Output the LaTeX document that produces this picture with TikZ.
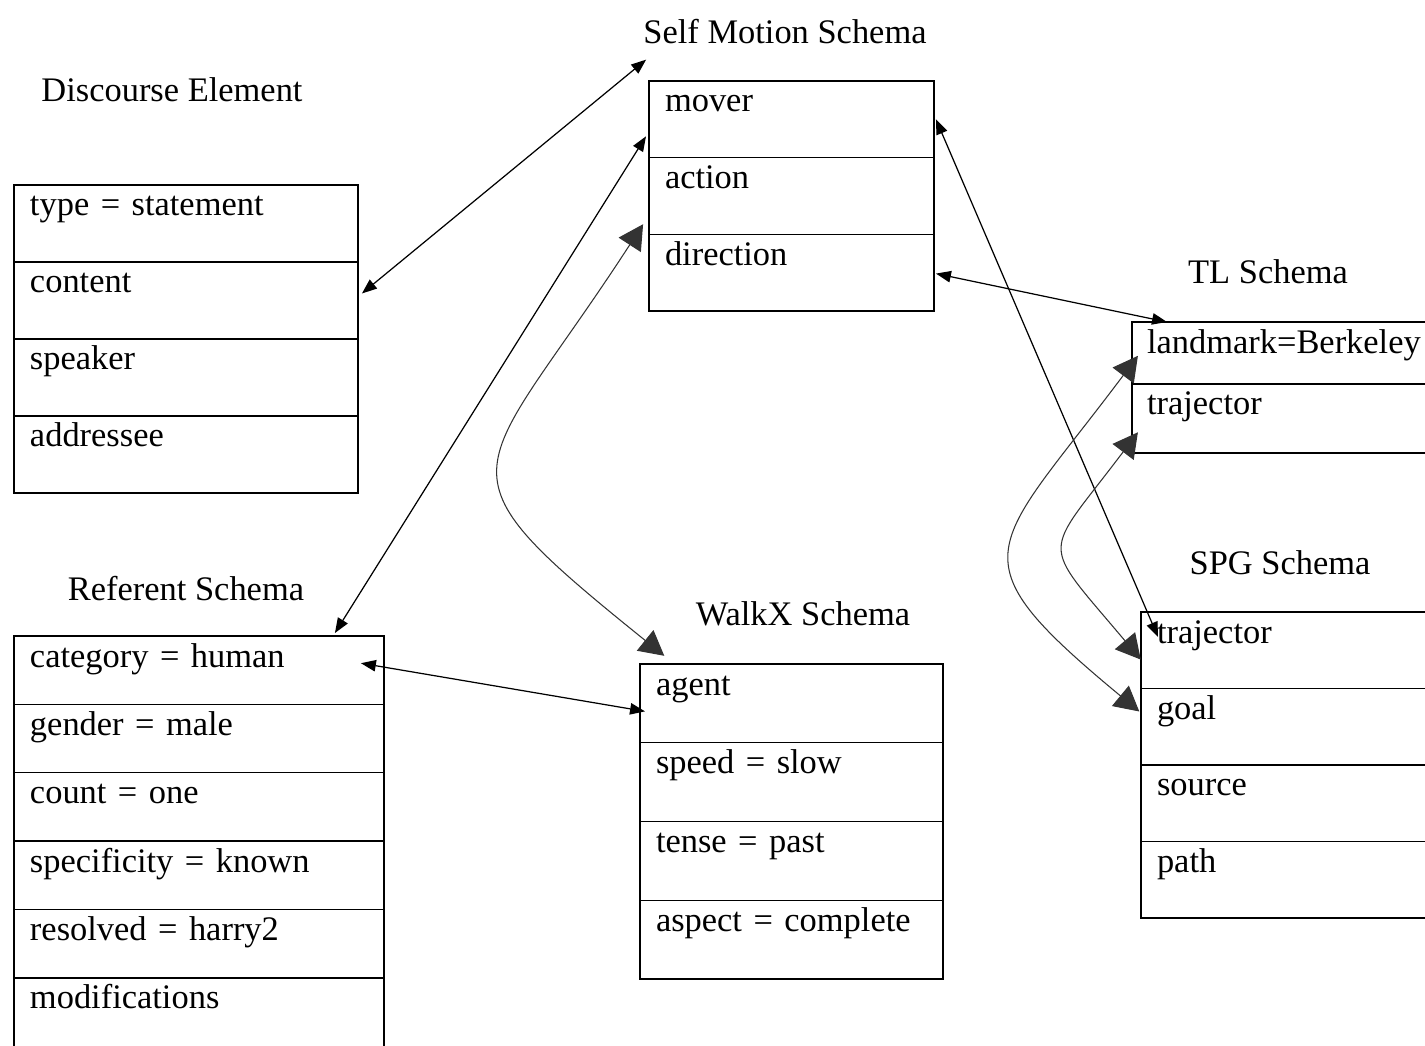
\documentclass[tikz,border=0pt]{standalone}
\usepackage{fontspec}
\setmainfont{Liberation Serif}
\usetikzlibrary{arrows.meta,positioning,calc}

\tikzset{
  field/.style={draw, line width=0.8pt, outer sep=0pt, inner xsep=0.32cm, inner ysep=0pt,
    align=left, text height=0.62cm},
  disc/.style={field, text width=6.24cm, text depth=0.92cm},
  selfm/.style={field, text width=5.06cm, text depth=0.913cm},
  tlrow/.style={field, text width=5.76cm, inner xsep=0.30cm},
  spg/.style={field, text width=5.76cm, text depth=0.91cm},
  refer/.style={field, text width=6.76cm, text depth=0.748cm},
  walkx/.style={field, text width=5.42cm, text depth=0.955cm},
  schemaname/.style={inner sep=0pt},
  link/.style={line width=0.7pt, {Triangle[length=8.5pt,width=6.5pt]}-{Triangle[length=8.5pt,width=6.5pt]}},
  bendlink/.style={line width=0.6pt, draw=black!80,
    {Triangle[length=14pt,width=15pt,sep=2pt]}-{Triangle[length=14pt,width=15pt,sep=2pt]}},
}

\begin{document}
\begin{tikzpicture}[x=0.02cm, y=-0.02cm, font=\fontsize{19.6pt}{23pt}\selectfont]
    \useasboundingbox (0,0) rectangle (1425,1045);
    % discourse element
    \node[schemaname] (detitle) at (172,90) {Discourse Element};
    \node[disc, anchor=north west] (type) at (14,185) {type = statement};
    \node[disc, below=0pt of type] (content) {content};
    \node[disc, below=0pt of content] (speaker) {speaker};
    \node[disc, below=0pt of speaker] (addressee) {addressee};
    % self motion
    \node[schemaname] (smtitle) at (785,32) {Self Motion Schema};
    \node[selfm, anchor=north west] (mover) at (649,81) {mover};
    \node[selfm, below=0pt of mover] (action) {action};
    \node[selfm, below=0pt of action] (direction) {direction};
    % trajector-landmark
    \node[schemaname] (tltitle) at (1268,272) {TL Schema};
    \node[tlrow, text depth=0.62cm, anchor=north west] (landmark) at (1132,322) {landmark=Berkeley};
    \node[tlrow, text depth=0.76cm, below=0pt of landmark] (tltraj) {trajector};
    % source-path-goal
    \node[schemaname] (spgtitle) at (1280,563) {SPG Schema};
    \node[spg, anchor=north west] (spgtraj) at (1141,612) {trajector};
    \node[spg, below=0pt of spgtraj] (goal) {goal};
    \node[spg, below=0pt of goal] (source) {source};
    \node[spg, below=0pt of source] (spgpath) {path};
    % referent
    \node[schemaname] (reftitle) at (186,589) {Referent Schema};
    \node[refer, anchor=north west] (category) at (14,636) {category = human};
    \node[refer, below=0pt of category] (gender) {gender = male};
    \node[refer, below=0pt of gender] (count) {count = one};
    \node[refer, below=0pt of count] (specificity) {specificity = known};
    \node[refer, below=0pt of specificity] (resolved) {resolved = harry2};
    \node[refer, below=0pt of resolved] (modif) {modifications};
    % walkx
    \node[schemaname] (wxtitle) at (803,614) {WalkX Schema};
    \node[walkx, anchor=north west] (agent) at (640,664) {agent};
    \node[walkx, below=0pt of agent] (speed) {speed = slow};
    \node[walkx, below=0pt of speed] (tense) {tense = past};
    \node[walkx, below=0pt of tense] (aspect) {aspect = complete};
    % bindings
    \draw[link] ($(content.east)+(4,-7)$) -- ($(smtitle.south west)+(3,15)$);
    \draw[link] ($(category.north east)+(-49,-3)$) -- ($(mover.west)+(-3,17)$);
    \draw[link] ($(mover.east)+(2,0)$) -- ($(spgtraj.north west)+(17,25)$);
    \draw[link] ($(direction.east)+(2,1)$) -- ($(landmark.north west)+(35,0)$);
    \draw[link] ($(category.east)+(-23,-7)$) -- ($(agent.west)+(5,8)$);
    \draw[bendlink] ($(direction.north west)+(-4,-13)$) .. controls +(-170,262) and +(-242,-195) .. ($(agent.north west)+(27,-6)$);
    \draw[bendlink] ($(landmark.west)+(8,0)$) .. controls +(-149,199) and +(-192,-159) .. ($(goal.west)+(1,-13)$);
    \draw[bendlink] ($(tltraj.west)+(8,11)$) .. controls +(-98,130) and +(-105,-125) .. ($(spgtraj.west)+(2,12)$);
  \end{tikzpicture}
\end{document}
